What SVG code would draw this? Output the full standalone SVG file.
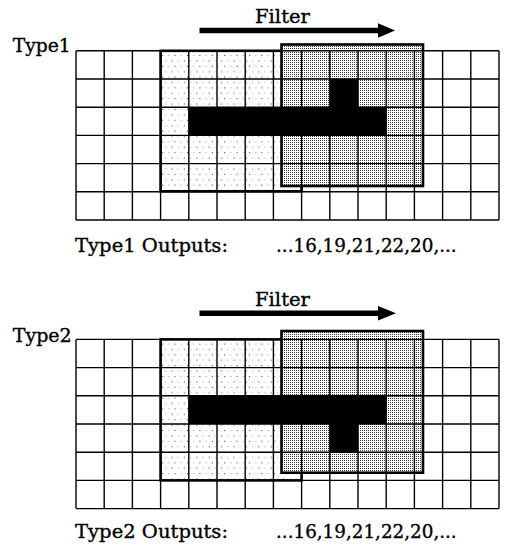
<svg xmlns="http://www.w3.org/2000/svg" xmlns:xlink="http://www.w3.org/1999/xlink" width="505" height="551" viewBox="0 0 505 551">
<style>
text{font-family:"DejaVu Serif","Liberation Serif",serif;font-size:19px;fill:#000;stroke:#000;stroke-width:0.35}
.grid{fill:none;stroke:#000;stroke-width:1.4}
.f1{fill:url(#light);stroke:#000;stroke-width:2.6}
.f2fill{fill:url(#dense);stroke:none}
.f2line{fill:none;stroke:#000;stroke-width:2.6}
.blk{fill:#000}
.arr{stroke:#000;stroke-width:5.5;fill:none}
</style>
<defs>
<pattern id="light" patternUnits="userSpaceOnUse" width="12.4" height="10.8">
<rect width="12.4" height="10.8" fill="#fff"/>
<rect x="1" y="1" width="1" height="1" fill="#333"/>
<rect x="7.2" y="1" width="1" height="1" fill="#999"/>
<rect x="4.1" y="6.4" width="1" height="1" fill="#999"/>
<rect x="10.3" y="6.4" width="1" height="1" fill="#333"/>
</pattern>
<pattern id="dense" patternUnits="userSpaceOnUse" width="2" height="2">
<rect width="2" height="2" fill="#fff"/>
<rect width="1" height="1" fill="#3a3a3a"/>
</pattern>
<path id="gridlines" class="grid" d="M76 50.8V220M104.2 50.8V220M132.4 50.8V220M160.6 50.8V220M188.8 50.8V220M217 50.8V220M245.2 50.8V220M273.4 50.8V220M301.6 50.8V220M329.8 50.8V220M358 50.8V220M386.2 50.8V220M414.4 50.8V220M442.6 50.8V220M470.8 50.8V220M499 50.8V220M76 50.8H499M76 79H499M76 107.2H499M76 135.4H499M76 163.6H499M76 191.8H499M76 220H499"/>
</defs>
<rect width="505" height="551" fill="#fff"/>

<g id="panel1">
<text x="255" y="22.5" textLength="55" lengthAdjust="spacingAndGlyphs">Filter</text>
<g id="arrow1">
<line class="arr" x1="199.5" y1="30.5" x2="380" y2="30.5"/>
<polygon points="378,23.3 395,30.5 378,37.7" fill="#000"/>
</g>
<text x="12.7" y="52" textLength="58" lengthAdjust="spacingAndGlyphs">Type1</text>
<rect id="filter1a" class="f1" x="160.6" y="50.8" width="141" height="140.5"/>
<rect class="f2fill" x="281.5" y="44.5" width="141.5" height="141.5"/>
<use xlink:href="#gridlines"/>
<rect class="blk" x="188.8" y="107.2" width="197.4" height="28.2"/>
<rect class="blk" x="329.8" y="79" width="28.2" height="28.2"/>
<rect id="filter1b" class="f2line" x="281.5" y="44.5" width="141.5" height="141.5"/>
<text x="75" y="251.7" textLength="153" lengthAdjust="spacingAndGlyphs">Type1 Outputs:</text>
<text x="276" y="251.7" textLength="180.7" lengthAdjust="spacingAndGlyphs">...16,19,21,22,20,...</text>
</g>

<g id="panel2">
<text x="255" y="306" textLength="55" lengthAdjust="spacingAndGlyphs">Filter</text>
<g id="arrow2">
<line class="arr" x1="199.5" y1="313.3" x2="380" y2="313.3"/>
<polygon points="378,306 396,313.3 378,320.6" fill="#000"/>
</g>
<text x="12.7" y="341.5" textLength="59" lengthAdjust="spacingAndGlyphs">Type2</text>
<g transform="translate(0,288.6)">
<rect id="filter2a" class="f1" x="160.6" y="50.8" width="141" height="141"/>
</g>
<rect class="f2fill" x="281.5" y="331" width="141.5" height="141.7"/>
<g transform="translate(0,288.6)">
<use xlink:href="#gridlines"/>
<rect class="blk" x="188.8" y="107.2" width="197.4" height="28.2"/>
<rect class="blk" x="329.8" y="135.4" width="28.2" height="28.2"/>
</g>
<rect id="filter2b" class="f2line" x="281.5" y="331" width="141.5" height="141.7"/>
<text x="75" y="538.3" textLength="153" lengthAdjust="spacingAndGlyphs">Type2 Outputs:</text>
<text x="276" y="538.3" textLength="180.7" lengthAdjust="spacingAndGlyphs">...16,19,21,22,20,...</text>
</g>
</svg>
